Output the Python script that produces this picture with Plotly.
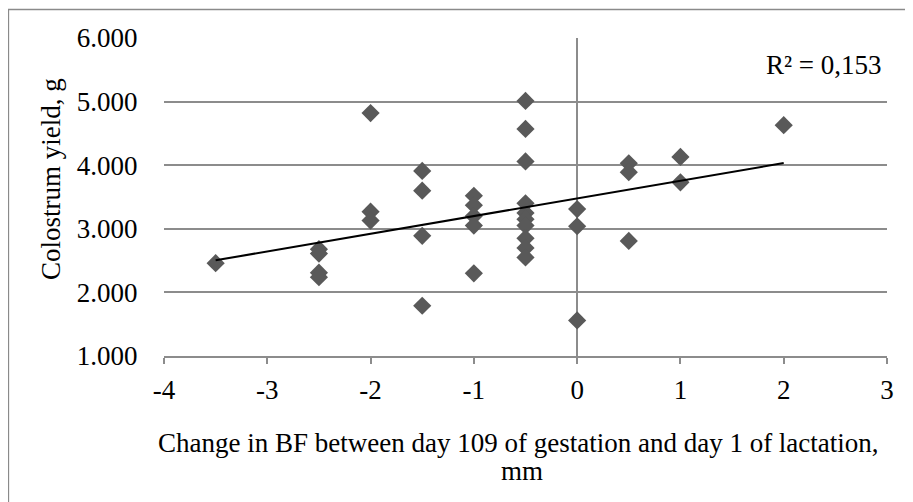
import numpy as np
import plotly.graph_objects as go

# Data
bf_change = [-3.5,
             -2.5, -2.5, -2.5, -2.5,
             -2, -2, -2,
             -1.5, -1.5, -1.5, -1.5,
             -1, -1, -1, -1, -1,
             -0.5, -0.5, -0.5, -0.5, -0.5, -0.5, -0.5, -0.5, -0.5, -0.5,
             0, 0, 0,
             0.5, 0.5, 0.5,
             1, 1,
             2]
colostrum = [2460,
             2680, 2610, 2310, 2240,
             4820, 3270, 3130,
             3910, 3600, 2890, 1790,
             3520, 3370, 3200, 3050, 2300,
             5010, 4570, 4060, 3400, 3250, 3150, 3050, 2850, 2700, 2550,
             3310, 3040, 1560,
             4030, 3890, 2810,
             4130, 3730,
             4630]

y_tickvals = [1000, 2000, 3000, 4000, 5000, 6000]
y_ticktext = ["1.000", "2.000", "3.000", "4.000", "5.000", "6.000"]
x_tickvals = [-4, -3, -2, -1, 0, 1, 2, 3]
x_ticktext = ["-4", "-3", "-2", "-1", "0", "1", "2", "3"]
r2_label = "R² = 0,153"
x_title_1 = "Change in BF between day 109 of gestation and day 1 of lactation,"
x_title_2 = "mm"
y_title = "Colostrum yield, g"

# linear trendline from the data
slope, intercept = np.polyfit(bf_change, colostrum, 1)
trend_x = [min(bf_change), max(bf_change)]
trend_y = [slope * v + intercept for v in trend_x]

FONT = "Liberation Serif, Times New Roman, serif"
FS = 27
GRID = "#8c8c8c"

# page body has an 8px default margin; work in reference pixel coords
OFF = 8
W, H = 913 - OFF, 502 - OFF
L = 164 - OFF
T = 38 - OFF
R = 913 - 887
B = 502 - 356
pw, ph = W - L - R, H - T - B

def px_x(p):
    return (p - OFF - L) / pw

def px_y(p):
    return (H - B - (p - OFF)) / ph

fig = go.Figure()
fig.add_trace(go.Scatter(
    x=bf_change, y=colostrum, mode="markers",
    marker=dict(symbol="diamond", size=14, color="#595959", line=dict(width=0)),
    showlegend=False, hoverinfo="skip"))
fig.add_trace(go.Scatter(
    x=trend_x, y=trend_y, mode="lines",
    line=dict(color="black", width=2),
    showlegend=False, hoverinfo="skip"))

fig.update_layout(
    width=W, height=H,
    margin=dict(l=L, r=R, t=T, b=B, pad=0),
    paper_bgcolor="white", plot_bgcolor="white",
    font=dict(family=FONT, size=FS, color="black"),
    xaxis=dict(
        range=[-4, 3], tickvals=x_tickvals, ticktext=x_ticktext,
        showgrid=False,
        zeroline=True, zerolinecolor=GRID, zerolinewidth=1.5,
        showline=True, linecolor=GRID, linewidth=1.5,
        ticks="outside", ticklen=6, tickcolor=GRID, tickwidth=1.5,
        ticklabelstandoff=3,
        tickfont=dict(family=FONT, size=FS, color="black"),
    ),
    yaxis=dict(
        range=[1000, 6000], tickvals=y_tickvals, ticktext=y_ticktext,
        showgrid=True, gridcolor=GRID, gridwidth=1.5,
        zeroline=False, showline=False,
        ticks="outside", ticklen=20, tickcolor="rgba(0,0,0,0)",
        tickfont=dict(family=FONT, size=FS, color="black"),
    ),
    annotations=[
        dict(text=r2_label, xref="paper", yref="paper",
             x=px_x(884), y=px_y(65), xanchor="right", yanchor="middle",
             showarrow=False, font=dict(family=FONT, size=FS, color="black")),
        dict(text=x_title_1, xref="paper", yref="paper",
             x=px_x(518), y=px_y(443), xanchor="center", yanchor="middle",
             showarrow=False, font=dict(family=FONT, size=FS, color="black")),
        dict(text=x_title_2, xref="paper", yref="paper",
             x=px_x(522), y=px_y(471), xanchor="center", yanchor="middle",
             showarrow=False, font=dict(family=FONT, size=FS, color="black")),
        dict(text=y_title, xref="paper", yref="paper",
             x=px_x(51), y=px_y(179), xanchor="center", yanchor="middle",
             textangle=-90,
             showarrow=False, font=dict(family=FONT, size=FS, color="black")),
    ],
    shapes=[
        dict(type="rect", xref="paper", yref="paper",
             x0=px_x(8.5), x1=px_x(930), y0=px_y(530), y1=px_y(9.5),
             line=dict(color="#8a8a8a", width=1.3), fillcolor="rgba(0,0,0,0)",
             layer="below"),
    ],
)

fig.write_html("out.html")
